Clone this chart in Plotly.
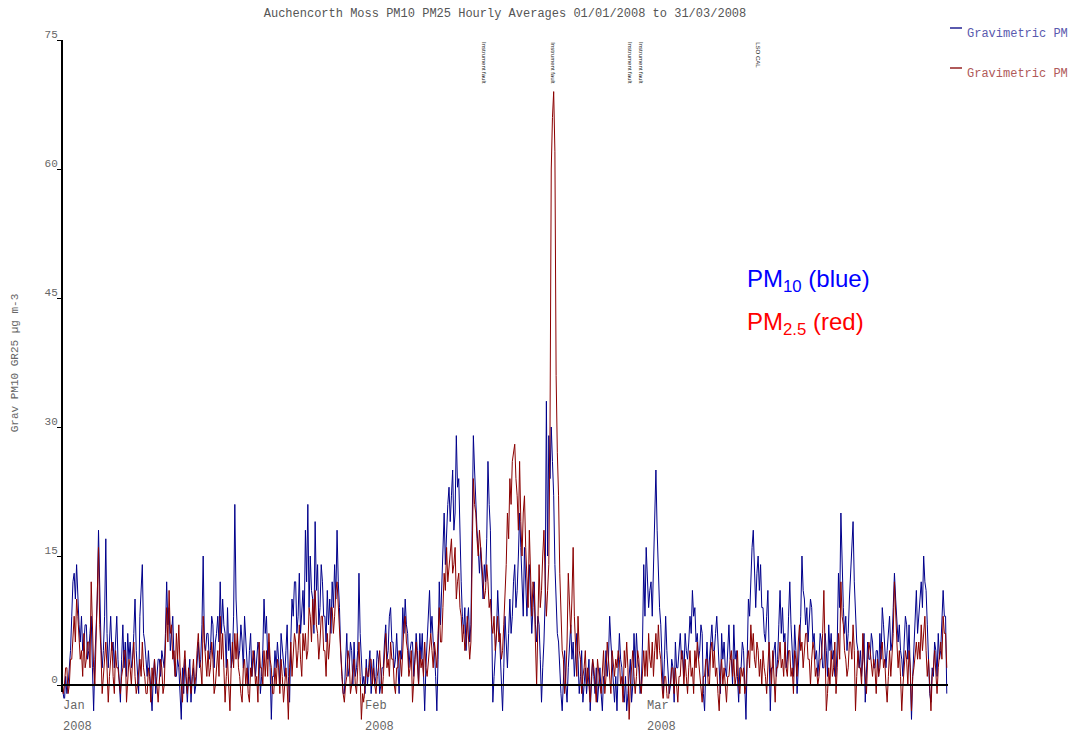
import pandas as pd
import plotly.graph_objects as go

# ---- data: 3-hourly values (ug m-3), one day per row ----
pm10_jan = [
    0, -1, -2, 1, -1, 0, 2, 4,
    8, 12, 13, 10, 14, 9, 7, 5,
    8, 4, 5, 7, 7, 3, 4, 6,
    8, 2, -3, 3, 6, 10, 18, 9,
    5, 2, 4, 8, 17, 6, 2, 5,
    8, 4, 5, 2, 6, 8, 3, 1,
    -2, 3, 7, 2, 5, 1, 6, 3,
    5, 2, 3, 6, 10, 4, 2, -1,
    8, 11, 14, 6, 5, 3, 1, 4,
    2, 0, -3, 1, 3, -1, 1, 3,
    3, 1, 4, 3, 2, 6, 12, 7,
    9, 4, 6, 8, 3, 1, 1, 3,
    2, -1, -4, 2, -1, 3, 1, -2,
    1, 3, -2, 1, 2, -1, 0, 3,
    5, 2, 3, 7, 15, 5, 4, 6,
    6, 3, 4, 8, 7, 2, 5, 6,
    8, 5, 12, 6, 10, 7, 6, 2,
    9, 4, 6, 2, 3, 8, 21, 10,
    7, 3, 4, 7, 5, 2, 8, 5,
    3, 0, 4, 6, 1, 3, 4, 1,
    3, 5, 4, -1, 1, 4, 10, 6,
    8, 3, 5, 2, -4, 1, 1, 4,
    2, 5, 3, 0, 6, 4, 3, 1,
    4, 7, 1, -2, 5, 10, 8, 12,
    12, 6, 8, 13, 6, 9, 11, 7,
    18, 12, 21, 9, 15, 11, 10, 6,
    19, 11, 14, 7, 9, 14, 12, 8,
    8, 5, 11, 7, 10, 6, 12, 9,
    14, 10, 18, 12, 9, 4, 1, -1,
    -1, 2, 6, 1, 2, 5, 4, 0,
    5, 1, 2, 4, 13, 6, 3, 0,
]
pm10_feb = [
    1, -1, 3, 0, 2, 4, -1, 1,
    3, 0, 1, 4, 3, -1, 0, 2,
    2, 5, 7, 3, 4, 8, 9, 5,
    5, 2, 3, 6, 2, -1, 4, 3,
    9, 6, 10, 7, 6, 2, 4, 5,
    5, 1, 3, 6, 4, 0, 6, 3,
    6, 2, -3, 2, 5, 8, 11, 6,
    8, 5, 4, 1, -3, 3, 12, 7,
    12, 17, 20, 14, 18, 21, 23, 19,
    22, 25, 18, 20, 29, 23, 24, 16,
    12, 8, 6, 9, 4, 7, 9, 5,
    7, 18, 29, 25, 21, 18, 16, 13,
    16, 12, 10, 14, 12, 17, 26, 21,
    18, 8, -2, 1, 3, 6, 11, 7,
    4, 1, -3, 2, 8, 5, 2, 6,
    10, 6, 8, 12, 14, 9, 11, 15,
    20, 16, 12, 8, 16, 11, 8, 12,
    14, 10, 6, 9, 12, 7, 5, 8,
    7, 3, -2, 2, 5, 10, 33, 15,
    29, 24, 30, 26, 22, 14, 10, 6,
    5, 1, -1, -3, 2, 4, 0, -2,
    2, 5, 7, 3, 5, 1, 3, 6,
    3, -1, 1, 4, -2, 0, 2, -1,
    1, 3, -3, 0, 3, 1, -1, 2,
    -2, 0, 2, -1, -3, 1, 1, 4,
    1, 3, 8, 5, 3, 0, -2, 1,
    -3, 2, 6, 3, 2, -1, -2, 1,
    -3, -1, 1, 3, -2, 0, 6, 2,
    6, 3, 2, -1, 0, 5, 14, 8,
]
pm10_mar = [
    16, 12, 9, 11, 12, 8, 14, 20,
    25, 18, 12, 9, 7, 2, -1, 3,
    8, 4, 2, -1, 0, 3, 2, -2,
    5, 2, 2, 4, 6, 3, 4, 1,
    6, 4, 3, 5, 8, 6, 11, 8,
    9, 5, 6, 3, 4, 7, 6, -1,
    -3, 2, 5, 1, 3, 6, 7, 4,
    4, 6, 8, 5, 2, -1, 6, 3,
    5, 2, 1, 4, 7, 3, 3, 0,
    7, 3, 4, 1, -2, 2, 2, 5,
    4, 0, -4, 3, 10, 8, 13, 16,
    18, 12, 9, 13, 15, 11, 14, 9,
    9, 6, 5, 8, 11, 4, -3, 2,
    2, 4, 5, 1, 3, 7, 11, 6,
    9, 5, 6, 2, 3, 8, 12, 7,
    4, 1, 7, 4, -1, 3, 5, 8,
    15, 11, 10, 7, 9, 5, 7, 10,
    9, 5, 6, 3, 4, 1, 3, 6,
    5, 2, 2, 6, 4, 1, 7, 4,
    6, 3, 4, 1, 1, 5, 13, 9,
    20, 14, 9, 6, 8, 4, 6, 10,
    13, 16, 19, 12, 9, 5, 4, 2,
    4, 1, 3, 6, -2, 2, 5, 3,
    3, 6, 5, 2, 2, 4, 4, 1,
    6, 3, 9, 7, 5, 2, 4, 6,
    8, 4, 5, 9, 13, 10, 8, 5,
    7, 4, 3, 1, 5, 8, 7, 3,
    7, 2, -4, 1, 5, 8, 11, 6,
    8, 10, 12, 9, 15, 12, 11, 7,
    2, -1, -2, 2, 1, 5, 4, 1,
    6, 3, 4, 7, 11, 8, 8, -1,
]

pm25_jan = [
    1, -1, 0, 2, 2, -1, 0, 3,
    3, 6, 8, 5, 10, 8, 6, 3,
    4, 1, 6, 2, 3, 5, 5, 2,
    12, 6, 2, 0, 5, 8, 16, 7,
    4, -1, 1, 3, 5, 2, -2, 1,
    3, 5, 1, -1, 4, 2, 2, 0,
    -1, 1, 2, 4, 4, -2, 1, 3,
    2, 0, 3, 5, 1, -1, 0, 2,
    3, 1, 5, 2, 1, -1, -1, 2,
    1, -2, 2, 0, 3, 1, 0, -2,
    1, 3, 2, -1, 0, 4, 9, 5,
    11, 6, 7, 3, 4, 1, 6, 3,
    7, 2, 0, -2, 2, 4, 1, -1,
    2, 0, -1, 1, 3, 0, 1, 4,
    6, 3, 2, 0, 8, 5, 3, 1,
    4, 1, 2, 5, 3, -1, 0, 2,
    4, 1, 8, 3, 6, 2, -2, 1,
    3, 0, -3, 2, 5, 2, 6, 3,
    6, 2, 1, -1, -2, 2, 3, 0,
    2, -1, -2, 2, 1, 4, 3, 0,
    1, -2, 5, 2, 2, 0, 4, 1,
    4, 1, 6, 3, 2, -1, -1, 2,
    0, 3, 2, -1, 3, 1, -2, 0,
    2, 0, -4, 2, 5, 1, 3, 6,
    5, 2, 4, 7, 3, 1, 6, 4,
    6, 3, 4, 9, 8, 5, 10, 7,
    11, 7, 6, 3, 5, 8, 8, 4,
    4, 1, 6, 3, 5, 9, 9, 6,
    8, 11, 12, 9, 7, 3, 1, -1,
    -2, 0, 1, 4, 3, -1, 0, 2,
    3, 0, -1, 2, 5, 1, -4, -1,
]
pm25_feb = [
    -2, 0, 2, 1, 1, 3, 3, 0,
    2, 0, -1, 1, 2, 4, 1, -1,
    1, 3, 6, 2, 3, 1, 5, 3,
    3, 0, -1, 2, 2, 4, 3, 1,
    5, 7, 8, 5, 4, 1, 2, 4,
    -2, 1, 3, 5, 2, 0, 4, 2,
    3, 1, 5, 2, 1, 3, 4, 6,
    4, 2, 5, 3, 2, 6, 9, 5,
    5, 9, 13, 11, 16, 12, 14, 15,
    17, 13, 14, 16, 10, 12, 13, 9,
    8, 5, 7, 4, 5, 8, 6, 3,
    5, 15, 24, 21, 20, 17, 15, 18,
    16, 14, 13, 10, 11, 14, 12, 9,
    10, 7, 6, 8, 4, 6, 8, 5,
    6, 3, 4, 7, 10, 14, 20, 17,
    24, 21, 26, 27, 28, 24, 22, 18,
    26, 19, 15, 20, 22, 16, 12, 9,
    18, 13, 8, 12, 11, 5, 0, 7,
    14, 9, 11, 15, 18, 12, 8, 11,
    14, 30, 60, 66, 69, 62, 36, 27,
    22, 13, 8, 4, 3, -1, 1, 5,
    13, 8, 6, 10, 16, 8, 4, 1,
    8, 4, 3, -1, 1, 2, 4, 0,
    2, 0, -2, 1, 3, 2, 0, -2,
    3, 1, 0, -1, 2, 4, -1, 1,
    5, 3, 2, -1, 4, 2, 1, 3,
    2, 4, 3, 0, 1, -2, 4, 2,
    5, 2, -4, 0, 2, 4, 1, -1,
    1, 4, 3, 0, -1, 2, 4, 1,
]
pm25_mar = [
    4, 1, 6, 3, 2, 5, 1, 4,
    6, 3, 7, 4, 3, 0, -2, 1,
    1, -1, -3, 0, 0, 2, 2, -1,
    2, 0, -2, 1, 1, 4, 3, 0,
    3, 1, -1, 2, 4, 1, 2, -1,
    4, 2, 5, 3, 1, -1, -2, 1,
    1, 3, 3, 0, 0, 4, 5, 2,
    4, 1, 2, -1, -3, 1, 3, 0,
    2, 0, -2, 1, 1, 3, 4, 1,
    3, 0, 1, 4, 0, -1, 2, 1,
    2, -1, 0, 3, 4, 2, 7, 4,
    6, 3, 2, 5, 4, 1, 3, 0,
    4, 2, 1, -1, 3, 5, 2, 0,
    4, 1, -2, 2, 2, 3, 5, 2,
    3, 1, 5, 2, 1, 4, 4, 1,
    2, -1, 4, 3, 1, 5, 7, 4,
    5, 2, 4, 6, 6, 3, 3, 0,
    3, 5, 4, 1, 2, 0, 1, 3,
    3, 6, 11, 4, -3, -1, 2, 0,
    4, 1, 2, 5, -1, 2, 6, 3,
    12, 8, 7, 4, 3, 1, 2, 5,
    5, 3, 7, 4, -3, 1, 4, 2,
    2, 0, 6, 3, 1, -1, 3, 5,
    4, 2, 1, 3, 2, -1, 3, 1,
    2, 4, 5, 2, 3, 0, -2, 1,
    4, 1, 3, 6, 12, 7, 5, 2,
    4, 1, -3, 0, 2, 4, 3, 0,
    4, 2, -3, 1, 2, 4, 5, 3,
    5, 3, 7, 4, 6, 8, 4, 1,
    3, 0, -3, 1, 2, 4, 1, -1,
    2, 4, 5, 3, 8, 6, 6, 2,
]

month_starts = ["2008-01-01", "2008-02-01", "2008-03-01"]
month_labels = ["Jan", "Feb", "Mar"]
year_label = "2008"
y_ticks = [0, 15, 30, 45, 60, 75]

events = [
    ("2008-02-13 08:00", "Instrument fault"),
    ("2008-02-20 10:00", "Instrument fault"),
    ("2008-02-28 08:00", "Instrument fault"),
    ("2008-02-29 11:00", "Instrument fault"),
    ("2008-03-12 11:00", "LSO CAL"),
]


def times(start, vals):
    return pd.date_range(start, periods=len(vals), freq="3h")


t10 = times(month_starts[0], pm10_jan).append(times(month_starts[1], pm10_feb)).append(times(month_starts[2], pm10_mar))
t25 = times(month_starts[0], pm25_jan).append(times(month_starts[1], pm25_feb)).append(times(month_starts[2], pm25_mar))
pm10 = pm10_jan + pm10_feb + pm10_mar
pm25 = pm25_jan + pm25_feb + pm25_mar

MONO = "Liberation Mono, Courier New, monospace"
SANS = "Liberation Sans, Arial, sans-serif"
GREY = "#666666"

fig = go.Figure()
fig.add_trace(go.Scatter(x=t10, y=pm10, mode="lines", name="Gravimetric PM10",
                         line=dict(color="#00008b", width=1)))
fig.add_trace(go.Scatter(x=t25, y=pm25, mode="lines", name="Gravimetric PM25",
                         line=dict(color="#8b0000", width=1)))

ymin, ymax = -4.3, 75

fig.update_layout(
    width=1068, height=734,
    margin=dict(l=62, r=120, t=40, b=12),
    paper_bgcolor="white", plot_bgcolor="white",
    showlegend=False,
    title=dict(text="Auchencorth Moss PM10 PM25 Hourly Averages 01/01/2008 to 31/03/2008",
               x=0.5, xref="paper", xanchor="center", y=0.982, yanchor="middle",
               font=dict(family=MONO, size=12, color="#555555")),
    xaxis=dict(range=["2008-01-01", "2008-04-01"], showgrid=False, zeroline=False,
               showticklabels=False, ticks="", showline=False),
    yaxis=dict(range=[ymin, ymax], showgrid=False, zeroline=False, showline=False,
               tickvals=y_ticks, ticktext=[str(v) for v in y_ticks],
               ticks="outside", ticklen=4, tickcolor="black", tickwidth=1,
               ticklabelshift=-6, ticklabelstandoff=-3,
               tickfont=dict(family=MONO, size=11, color=GREY)),
)

# axis lines
fig.add_shape(type="line", xref="paper", yref="y", x0=0, x1=0, y0=-0.8, y1=ymax,
              line=dict(color="black", width=2), layer="above")
fig.add_shape(type="line", xref="paper", yref="y", x0=0, x1=1, y0=0, y1=0,
              line=dict(color="black", width=2), layer="above")

# y title
fig.add_annotation(text="Grav PM10 GR25 µg m-3", xref="paper", yref="paper",
                   x=-0.053, y=0.526, xanchor="center", yanchor="middle",
                   textangle=-90, showarrow=False,
                   font=dict(family=MONO, size=11, color=GREY))

# month labels
for d, lab in zip(month_starts, month_labels):
    fig.add_annotation(text=lab, x=d, xref="x", yref="paper", y=0.0235,
                       xanchor="left", yanchor="middle", showarrow=False,
                       bgcolor="white", borderpad=0,
                       font=dict(family=MONO, size=12, color=GREY))
    fig.add_annotation(text=year_label, x=d, xref="x", yref="paper", y=-0.0073,
                       xanchor="left", yanchor="middle", showarrow=False,
                       borderpad=0,
                       font=dict(family=MONO, size=12, color=GREY))

# event labels
for d, lab in events:
    fig.add_annotation(text=lab, x=d, xref="x", y=ymax, yref="y",
                       xanchor="center", yanchor="top", textangle=90,
                       showarrow=False, font=dict(family=SANS, size=6, color="#222222"))

# PM labels
fig.add_annotation(text="PM<sub>10</sub> (blue)", xref="paper", yref="paper",
                   x=0.771, y=0.648, xanchor="left", yanchor="middle", showarrow=False,
                   font=dict(family=SANS, size=24, color="#0000ff"))
fig.add_annotation(text="PM<sub>2.5</sub> (red)", xref="paper", yref="paper",
                   x=0.771, y=0.585, xanchor="left", yanchor="middle", showarrow=False,
                   font=dict(family=SANS, size=24, color="#ff0000"))

# manual legend (clipped at right edge like the original)
leg = [("Gravimetric PM10", "#5a5aae", 28, 34), ("Gravimetric PM25", "#b05a5a", 68, 74)]
for name, col, yl, yt in leg:
    ypl = (722 - yl) / 682
    ypt = (722 - yt) / 682
    fig.add_shape(type="line", xref="paper", yref="paper",
                  x0=(950 - 62) / 886, x1=(962 - 62) / 886, y0=ypl, y1=ypl,
                  line=dict(color=col, width=2))
    fig.add_annotation(text=name, xref="paper", yref="paper", x=(966 - 62) / 886, y=ypt,
                       xanchor="left", yanchor="middle", showarrow=False, borderpad=0,
                       font=dict(family=MONO, size=12, color=col))

fig.write_html("out.html", config={"displayModeBar": False},
               post_script="document.body.style.margin='0px';")
